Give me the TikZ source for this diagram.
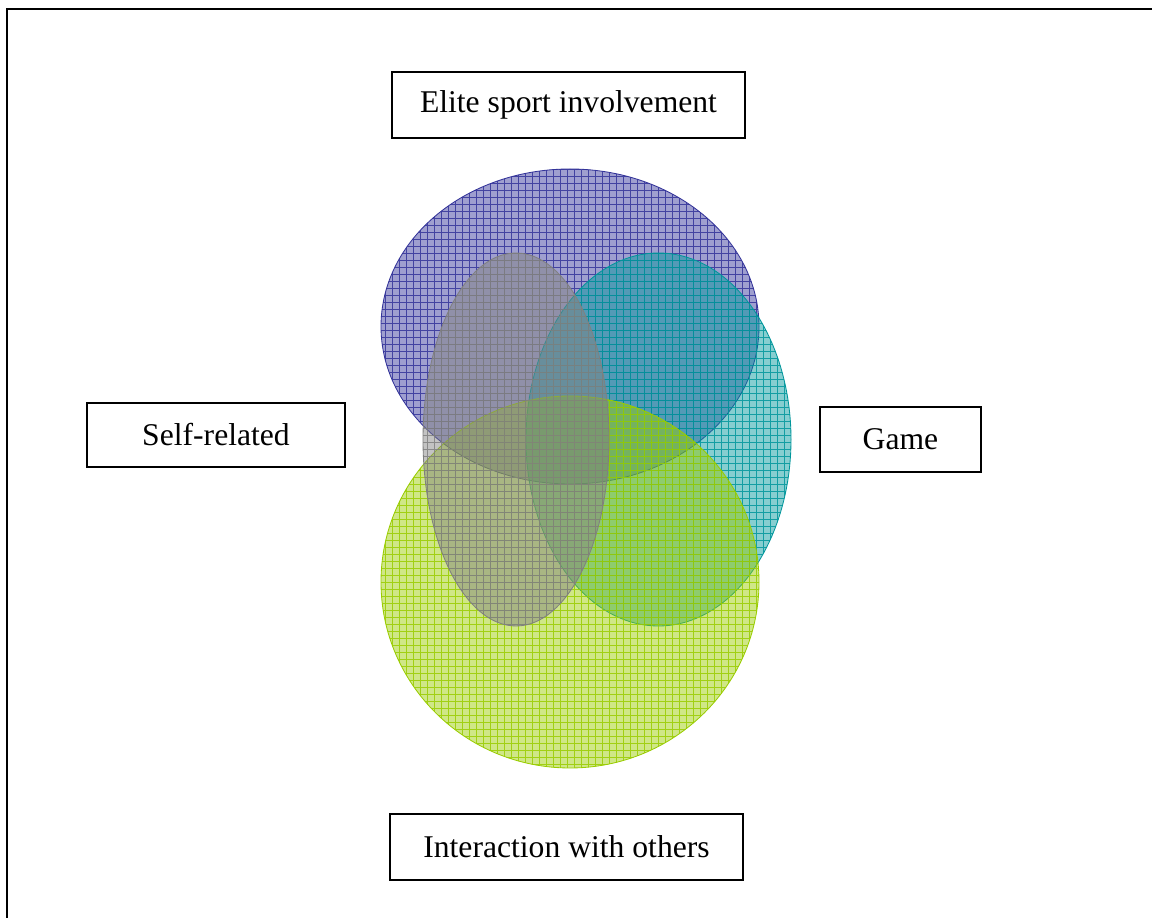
\documentclass[tikz,border=0pt]{standalone}
\usepackage{fontspec}
\setmainfont{Liberation Serif}
\usepackage{tikz}
\usetikzlibrary{calc}

\definecolor{eliteblue}{RGB}{51,51,153}
\definecolor{gameteal}{RGB}{0,150,155}
\definecolor{selfgray}{RGB}{128,128,128}
\definecolor{othersgreen}{RGB}{153,204,0}

\tikzset{
  themebox/.style = {draw, line width=1.1pt, fill=white, minimum width=#1, minimum height=1.64cm,
    inner sep=0pt, font=\fontsize{22.5}{27}\selectfont},
}

\begin{document}
\begin{tikzpicture}
\useasboundingbox (0,0) rectangle (28.8,22.95);
% frame runs off the page at right and bottom
\draw[line width=1.3pt] (0.175,0) -- (0.175,22.725) -- (28.8,22.725);
% overlapping theme ellipses
\foreach \cx/\cy/\rx/\ry/\col in {14.25/14.7875/4.725/3.9375/eliteblue,
    16.4625/11.9625/3.3125/4.6625/gameteal,
    14.25/8.4/4.725/4.65/othersgreen,
    12.9/11.9625/2.325/4.6625/selfgray}{
  \begin{scope}
    \clip (\cx,\cy) ellipse ({\rx} and {\ry});
    \fill[\col, fill opacity=.47] (\cx,\cy) ellipse ({\rx} and {\ry});
    \draw[\col, step=.175, line width=.5pt, opacity=.85] (\cx-\rx-.2,\cy-\ry-.2) grid (\cx+\rx+.2,\cy+\ry+.2);
  \end{scope}
  \draw[\col, line width=.6pt] (\cx,\cy) ellipse ({\rx} and {\ry});
}
\node[themebox=8.825cm] (elite) at (14.2125,20.325) {Elite sport involvement};
\node[themebox=6.45cm, minimum height=1.6cm] (self) at (5.4,12.075) {Self-related};
\node[themebox=4.025cm, minimum height=1.625cm] (game) at (22.5125,11.9625) {Game};
\node[themebox=8.825cm] (others) at (14.1625,1.775) {Interaction with others};
\end{tikzpicture}
\end{document}
